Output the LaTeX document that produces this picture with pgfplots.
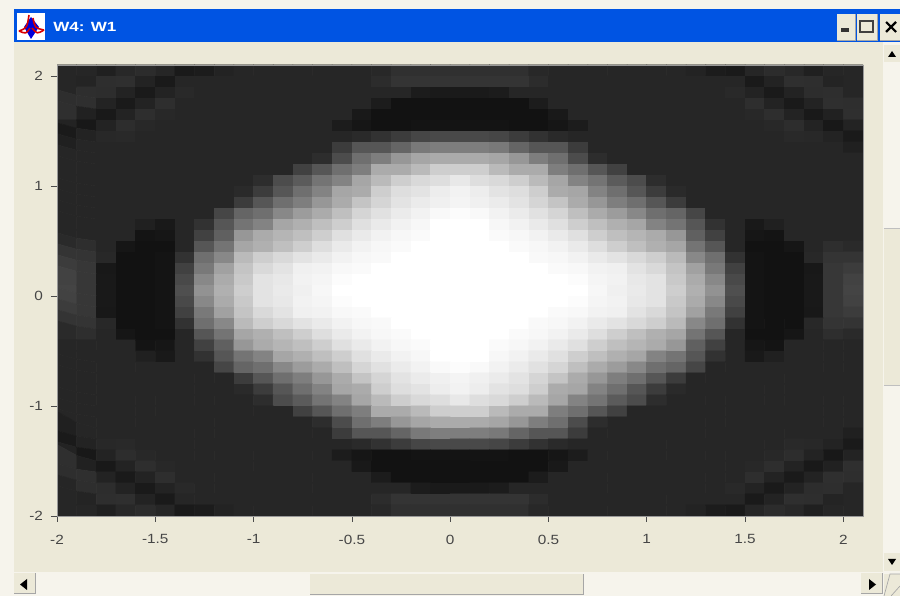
\documentclass[border=0pt]{standalone}
\usepackage{fontspec}
\setmainfont{Liberation Sans}
\newfontfamily\ticksfont[FakeStretch=1.15]{Liberation Sans}
\newfontfamily\titlefont[FakeStretch=1.28]{Liberation Sans Bold}
\usepackage{pgfplots}
\pgfplotsset{compat=1.18}
\definecolor{panel}{RGB}{236,233,216}
\definecolor{track}{RGB}{246,244,236}
\definecolor{titleblue}{RGB}{0,84,227}
\definecolor{ticktext}{RGB}{70,70,70}
\begin{document}
\begin{tikzpicture}
% window chrome, in pixels of the 900x596 screenshot
\begin{scope}[x=0.75pt,y=-0.75pt,shift={(0pt,447pt)}]
\useasboundingbox (0,0) rectangle (900,596);
\fill[track] (0,0) rectangle (900,596);
\fill[panel] (14,42) rectangle (883,572);
\fill[titleblue] (14,9) rectangle (900,42);
% icon
\fill[white] (17,13) rectangle (45,40);
\fill[blue!85!black] (31,17) -- (39,27) -- (31,39) -- (24,27) -- cycle;
\draw[red!85!black,line width=1.2pt] (19,31) .. controls (27,28) .. (29,15);
\draw[red!85!black,line width=1.2pt] (44,30) .. controls (35,28) .. (33,18);
\draw[red!85!black,line width=1.2pt] (19,31) .. controls (26,34) .. (30,28) (44,30) .. controls (37,34) .. (32,28);
\node[anchor=west,text=white,font=\titlefont\fontsize{10}{12}\selectfont,inner sep=0pt] at (53,26.5) {W4: W1};
% title buttons
\foreach \a/\b in {837/855,857/877,880/900}{
  \fill[panel] (\a,14) rectangle (\b,40);
  \draw[gray!70,line width=0.5pt] (\a,40) -- (\b,40) -- (\b,14);
}
\fill[black!80] (841,28.5) rectangle (849,32);
\draw[black!75,line width=0.9pt] (860,21) rectangle (873,32);
\draw[black,line width=1.6pt] (886,22) -- (896,32) (896,22) -- (886,32);
% vertical scrollbar
\fill[panel] (884,45) rectangle (900,62);
\fill[black] (888,57) -- (896,57) -- (892,51) -- cycle;
\fill[panel] (884,228) rectangle (900,385);
\draw[gray!50,line width=0.5pt] (884,385) -- (900,385) (884,228) -- (900,228);
\fill[panel] (884,553) rectangle (900,571);
\fill[black] (888,559) -- (896,559) -- (892,565) -- cycle;
% horizontal scrollbar
\fill[track] (14,572) rectangle (883,596);
\fill[panel] (14,573) rectangle (35,593);
\draw[gray!70,line width=0.5pt] (14,593) -- (35,593) -- (35,573);
\fill[black] (27,579) -- (27,590) -- (20,584.5) -- cycle;
\fill[panel] (310,574) rectangle (583,594);
\draw[gray!70,line width=0.5pt] (310,594) -- (583,594) -- (583,574);
\fill[panel] (861,573) rectangle (882,593);
\draw[gray!70,line width=0.5pt] (861,593) -- (882,593) -- (882,573);
\fill[black] (869,579) -- (869,590) -- (876,584.5) -- cycle;
\fill[panel] (884,574) rectangle (900,596);
\draw[gray!70,line width=0.5pt] (884,596) -- (890,574) -- (900,574) (891,596) -- (900,586);
\end{scope}
\begin{axis}[
    at={(42.75pt,60pt)},
    anchor=south west,
    scale only axis,
    width=604.5pt,
    height=338.25pt,
    xmin=-2, xmax=2.1,
    ymin=-2, ymax=2.1,
    xtick={-2,-1.5,-1,-0.5,0,0.5,1,1.5,2},
    xticklabels={-2,-1.5,-1,-0.5,0,0.5,1,1.5,2},
    ytick={-2,-1,0,1,2},
    yticklabels={-2,-1,0,1,2},
    tick pos=left,
    tick align=outside,
    major tick length=4.5pt,
    tick style={black!70,line width=0.5pt},
    axis line style={black!40,line width=0.5pt},
    tick label style={font=\ticksfont\fontsize{10}{12}\selectfont,text=ticktext},
    xticklabel style={yshift=-6pt},
    yticklabel style={xshift=-2.5pt},
    colormap/blackwhite,
    point meta min=0,
    point meta max=255,
    axis on top,
]
\addplot[matrix plot*,mesh/cols=41,point meta=explicit]
table[row sep=\\,header=false,
      x expr={-1.95+0.1*mod(\coordindex,41)},
      y expr={2.05-0.1*floor(\coordindex/41)},
      meta index=0]{
38\\38\\32\\40\\44\\38\\26\\28\\35\\38\\38\\38\\38\\38\\38\\38\\40\\48\\48\\48\\48\\48\\48\\48\\40\\38\\38\\38\\38\\38\\38\\38\\35\\28\\26\\38\\44\\40\\32\\38\\38\\
38\\36\\46\\47\\35\\26\\38\\38\\38\\38\\38\\38\\38\\38\\38\\38\\44\\52\\52\\52\\52\\52\\52\\52\\44\\38\\38\\38\\38\\38\\38\\38\\38\\38\\38\\26\\35\\47\\46\\36\\38\\
38\\46\\45\\35\\26\\35\\41\\38\\38\\38\\38\\38\\38\\38\\38\\38\\38\\38\\28\\26\\26\\26\\28\\38\\38\\38\\38\\38\\38\\38\\38\\38\\38\\38\\41\\35\\26\\35\\45\\46\\38\\
46\\47\\35\\26\\35\\46\\38\\38\\38\\38\\38\\38\\38\\38\\38\\38\\28\\18\\18\\18\\18\\18\\18\\18\\28\\38\\38\\38\\38\\38\\38\\38\\38\\38\\38\\46\\35\\26\\35\\47\\46\\
47\\33\\25\\35\\46\\40\\38\\38\\38\\38\\38\\38\\38\\38\\38\\25\\18\\18\\18\\18\\18\\18\\18\\18\\18\\25\\38\\38\\38\\38\\38\\38\\38\\38\\38\\40\\46\\35\\25\\33\\47\\
35\\24\\35\\45\\40\\38\\38\\38\\38\\38\\38\\38\\38\\38\\28\\22\\18\\18\\20\\20\\20\\20\\20\\18\\18\\22\\28\\38\\38\\38\\38\\38\\38\\38\\38\\38\\40\\45\\35\\24\\35\\
26\\35\\40\\41\\38\\38\\38\\38\\38\\38\\38\\38\\38\\38\\38\\42\\50\\60\\70\\72\\72\\72\\70\\60\\50\\42\\38\\38\\38\\38\\38\\38\\38\\38\\38\\38\\38\\41\\40\\35\\26\\
32\\38\\38\\38\\38\\38\\38\\38\\38\\38\\38\\38\\38\\38\\60\\85\\85\\100\\120\\125\\125\\125\\120\\100\\85\\85\\60\\38\\38\\38\\38\\38\\38\\38\\38\\38\\38\\38\\38\\38\\32\\
38\\38\\38\\38\\38\\38\\38\\38\\38\\38\\38\\38\\38\\45\\75\\110\\125\\150\\165\\170\\170\\170\\165\\150\\125\\110\\75\\45\\38\\38\\38\\38\\38\\38\\38\\38\\38\\38\\38\\38\\38\\
38\\38\\38\\38\\38\\38\\38\\38\\38\\38\\38\\38\\65\\85\\110\\125\\170\\170\\185\\205\\205\\205\\185\\170\\170\\125\\110\\85\\65\\38\\38\\38\\38\\38\\38\\38\\38\\38\\38\\38\\38\\
38\\38\\38\\38\\38\\38\\38\\38\\38\\38\\45\\75\\90\\115\\130\\165\\185\\205\\215\\220\\230\\220\\215\\205\\185\\165\\130\\115\\90\\75\\45\\38\\38\\38\\38\\38\\38\\38\\38\\38\\38\\
38\\38\\38\\38\\38\\38\\38\\38\\38\\42\\60\\85\\110\\130\\165\\170\\205\\220\\225\\235\\240\\235\\225\\220\\205\\170\\165\\130\\110\\85\\60\\42\\38\\38\\38\\38\\38\\38\\38\\38\\38\\
38\\38\\38\\38\\38\\38\\38\\38\\38\\60\\85\\110\\125\\150\\170\\195\\212\\225\\233\\238\\242\\238\\233\\225\\212\\195\\170\\150\\125\\110\\85\\60\\38\\38\\38\\38\\38\\38\\38\\38\\38\\
38\\38\\38\\38\\38\\38\\38\\38\\70\\100\\110\\135\\155\\170\\190\\212\\223\\233\\240\\247\\250\\247\\240\\233\\223\\212\\190\\170\\155\\135\\110\\100\\70\\38\\38\\38\\38\\38\\38\\38\\38\\
38\\38\\38\\38\\32\\25\\38\\50\\85\\115\\130\\165\\175\\190\\205\\222\\232\\240\\245\\255\\255\\255\\245\\240\\232\\222\\205\\190\\175\\165\\130\\115\\85\\50\\38\\25\\32\\38\\38\\38\\38\\
38\\38\\38\\38\\20\\22\\38\\65\\95\\150\\170\\180\\190\\205\\222\\232\\240\\245\\248\\255\\255\\255\\248\\245\\240\\232\\222\\205\\190\\180\\170\\150\\95\\65\\38\\22\\20\\38\\38\\38\\38\\
42\\46\\38\\22\\18\\18\\38\\85\\115\\165\\175\\190\\205\\220\\232\\240\\245\\248\\255\\255\\255\\255\\255\\248\\245\\240\\232\\220\\205\\190\\175\\165\\115\\85\\38\\18\\18\\22\\38\\46\\42\\
52\\52\\40\\18\\18\\20\\50\\110\\135\\185\\205\\215\\225\\232\\240\\245\\247\\255\\255\\255\\255\\255\\255\\255\\247\\245\\240\\232\\225\\215\\205\\185\\135\\110\\50\\20\\18\\18\\40\\52\\52\\
60\\55\\24\\18\\18\\20\\65\\120\\160\\195\\215\\225\\238\\240\\246\\248\\255\\255\\255\\255\\255\\255\\255\\255\\255\\248\\246\\240\\238\\225\\215\\195\\160\\120\\65\\20\\18\\18\\24\\55\\60\\
66\\55\\25\\18\\18\\20\\72\\135\\170\\200\\225\\230\\240\\243\\250\\255\\255\\255\\255\\255\\255\\255\\255\\255\\255\\255\\250\\243\\240\\230\\225\\200\\170\\135\\72\\20\\18\\18\\25\\55\\66\\
68\\55\\25\\18\\18\\20\\78\\145\\175\\205\\225\\232\\238\\245\\255\\255\\255\\255\\255\\255\\255\\255\\255\\255\\255\\255\\255\\245\\238\\232\\225\\205\\175\\145\\78\\20\\18\\18\\25\\55\\68\\
66\\55\\25\\18\\18\\20\\72\\135\\170\\200\\225\\230\\240\\243\\250\\255\\255\\255\\255\\255\\255\\255\\255\\255\\255\\255\\250\\243\\240\\230\\225\\200\\170\\135\\72\\20\\18\\18\\25\\55\\66\\
60\\55\\24\\18\\18\\20\\65\\120\\160\\195\\215\\225\\238\\240\\246\\248\\255\\255\\255\\255\\255\\255\\255\\255\\255\\248\\246\\240\\238\\225\\215\\195\\160\\120\\65\\20\\18\\18\\24\\55\\60\\
52\\52\\40\\18\\18\\20\\50\\110\\135\\185\\205\\215\\225\\232\\240\\245\\247\\255\\255\\255\\255\\255\\255\\255\\247\\245\\240\\232\\225\\215\\205\\185\\135\\110\\50\\20\\18\\18\\40\\52\\52\\
42\\46\\38\\22\\18\\18\\38\\85\\115\\165\\175\\190\\205\\220\\232\\240\\245\\248\\255\\255\\255\\255\\255\\248\\245\\240\\232\\220\\205\\190\\175\\165\\115\\85\\38\\18\\18\\22\\38\\46\\42\\
38\\38\\38\\38\\20\\22\\38\\65\\95\\150\\170\\180\\190\\205\\222\\232\\240\\245\\248\\255\\255\\255\\248\\245\\240\\232\\222\\205\\190\\180\\170\\150\\95\\65\\38\\22\\20\\38\\38\\38\\38\\
38\\38\\38\\38\\32\\25\\38\\50\\85\\115\\130\\165\\175\\190\\205\\222\\232\\240\\245\\255\\255\\255\\245\\240\\232\\222\\205\\190\\175\\165\\130\\115\\85\\50\\38\\25\\32\\38\\38\\38\\38\\
38\\38\\38\\38\\38\\38\\38\\38\\70\\100\\110\\135\\155\\170\\190\\212\\223\\233\\240\\247\\250\\247\\240\\233\\223\\212\\190\\170\\155\\135\\110\\100\\70\\38\\38\\38\\38\\38\\38\\38\\38\\
38\\38\\38\\38\\38\\38\\38\\38\\38\\60\\85\\110\\125\\150\\170\\195\\212\\225\\233\\238\\242\\238\\233\\225\\212\\195\\170\\150\\125\\110\\85\\60\\38\\38\\38\\38\\38\\38\\38\\38\\38\\
38\\38\\38\\38\\38\\38\\38\\38\\38\\42\\60\\85\\110\\130\\165\\170\\205\\220\\225\\235\\240\\235\\225\\220\\205\\170\\165\\130\\110\\85\\60\\42\\38\\38\\38\\38\\38\\38\\38\\38\\38\\
38\\38\\38\\38\\38\\38\\38\\38\\38\\38\\45\\75\\90\\115\\130\\165\\185\\205\\215\\220\\230\\220\\215\\205\\185\\165\\130\\115\\90\\75\\45\\38\\38\\38\\38\\38\\38\\38\\38\\38\\38\\
38\\38\\38\\38\\38\\38\\38\\38\\38\\38\\38\\38\\65\\85\\110\\125\\170\\170\\185\\205\\205\\205\\185\\170\\170\\125\\110\\85\\65\\38\\38\\38\\38\\38\\38\\38\\38\\38\\38\\38\\38\\
38\\38\\38\\38\\38\\38\\38\\38\\38\\38\\38\\38\\38\\45\\75\\110\\125\\150\\165\\170\\170\\170\\165\\150\\125\\110\\75\\45\\38\\38\\38\\38\\38\\38\\38\\38\\38\\38\\38\\38\\38\\
32\\38\\38\\38\\38\\38\\38\\38\\38\\38\\38\\38\\38\\38\\60\\85\\85\\100\\120\\125\\125\\125\\120\\100\\85\\85\\60\\38\\38\\38\\38\\38\\38\\38\\38\\38\\38\\38\\38\\38\\32\\
26\\35\\40\\41\\38\\38\\38\\38\\38\\38\\38\\38\\38\\38\\38\\42\\50\\60\\70\\72\\72\\72\\70\\60\\50\\42\\38\\38\\38\\38\\38\\38\\38\\38\\38\\38\\38\\41\\40\\35\\26\\
35\\24\\35\\45\\40\\38\\38\\38\\38\\38\\38\\38\\38\\38\\28\\22\\18\\18\\20\\20\\20\\20\\20\\18\\18\\22\\28\\38\\38\\38\\38\\38\\38\\38\\38\\38\\40\\45\\35\\24\\35\\
47\\33\\25\\35\\46\\40\\38\\38\\38\\38\\38\\38\\38\\38\\38\\25\\18\\18\\18\\18\\18\\18\\18\\18\\18\\25\\38\\38\\38\\38\\38\\38\\38\\38\\38\\40\\46\\35\\25\\33\\47\\
46\\47\\35\\26\\35\\46\\38\\38\\38\\38\\38\\38\\38\\38\\38\\38\\28\\18\\18\\18\\18\\18\\18\\18\\28\\38\\38\\38\\38\\38\\38\\38\\38\\38\\38\\46\\35\\26\\35\\47\\46\\
38\\46\\45\\35\\26\\35\\41\\38\\38\\38\\38\\38\\38\\38\\38\\38\\38\\38\\28\\26\\26\\26\\28\\38\\38\\38\\38\\38\\38\\38\\38\\38\\38\\38\\41\\35\\26\\35\\45\\46\\38\\
38\\36\\46\\47\\35\\26\\38\\38\\38\\38\\38\\38\\38\\38\\38\\38\\44\\52\\52\\52\\52\\52\\52\\52\\44\\38\\38\\38\\38\\38\\38\\38\\38\\38\\38\\26\\35\\47\\46\\36\\38\\
38\\38\\32\\40\\44\\38\\26\\28\\35\\38\\38\\38\\38\\38\\38\\38\\40\\48\\48\\48\\48\\48\\48\\48\\40\\38\\38\\38\\38\\38\\38\\38\\35\\28\\26\\38\\44\\40\\32\\38\\38\\
};
\end{axis}
\end{tikzpicture}
\end{document}
